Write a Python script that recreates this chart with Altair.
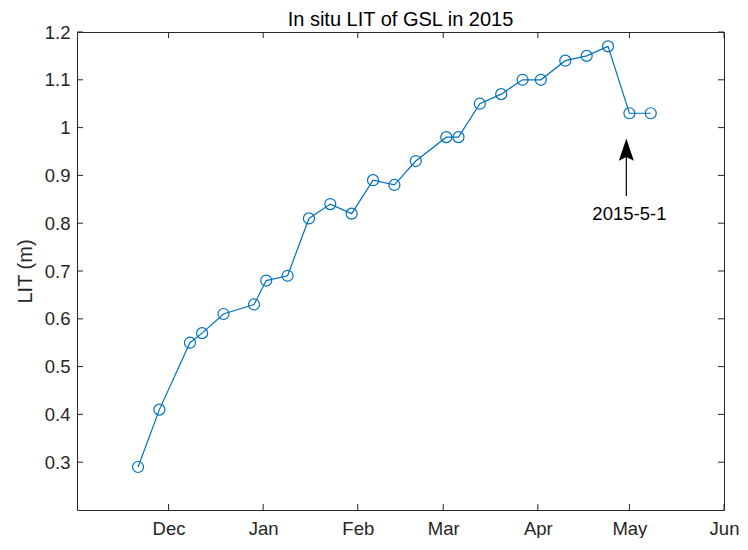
import altair as alt
import pandas as pd

# ---- data ----
dates = ["2014-11-21", "2014-11-28", "2014-12-08", "2014-12-12", "2014-12-19",
         "2014-12-29", "2015-01-02", "2015-01-09", "2015-01-16", "2015-01-23",
         "2015-01-30", "2015-02-06", "2015-02-13", "2015-02-20", "2015-03-02",
         "2015-03-06", "2015-03-13", "2015-03-20", "2015-03-27", "2015-04-02",
         "2015-04-10", "2015-04-17", "2015-04-24", "2015-05-01", "2015-05-08"]
lit = [0.29, 0.41, 0.55, 0.57, 0.61, 0.63, 0.68, 0.69, 0.81, 0.84,
       0.82, 0.89, 0.88, 0.93, 0.98, 0.98, 1.05, 1.07, 1.10, 1.10,
       1.14, 1.15, 1.17, 1.03, 1.03]

x_tick_dates = ["2014-12-01", "2015-01-01", "2015-02-01", "2015-03-01",
                "2015-04-01", "2015-05-01", "2015-06-01"]
y_tick_values = [0.3, 0.4, 0.5, 0.6, 0.7, 0.8, 0.9, 1.0, 1.1, 1.2]
x_domain = ["2014-11-01", "2015-06-01"]
y_domain = [0.2, 1.2]

annot_text = "2015-5-1"
annot_text_date = "2015-05-01"
annot_text_y = 0.82
arrow_date = "2015-04-30"
arrow_y_tail = 0.857
arrow_y_head = 0.945
arrow_head_y = 0.954

title_text = "In situ LIT of GSL in 2015"
y_title = "LIT (m)"

# ---- helpers ----
def local(d):
    return d + "T00:00:00"

def dt(d):
    y, m, dd = (int(v) for v in d.split("-"))
    return alt.DateTime(year=y, month=m, date=dd)

W, H = 647, 478
BLUE = "#0072BD"
AX = "#262626"
FONT = "Liberation Sans"

xscale = alt.Scale(domain=[dt(d) for d in x_domain], nice=False)
yscale = alt.Scale(domain=y_domain, nice=False, zero=False)

df = pd.DataFrame({"date": [local(d) for d in dates], "lit": lit})
xt = pd.DataFrame({"date": [local(d) for d in x_tick_dates]})
yt = pd.DataFrame({"lit": y_tick_values})
arrow_df = pd.DataFrame({"date": [local(arrow_date)], "lit": [arrow_y_tail],
                         "lit2": [arrow_y_head], "head": [arrow_head_y]})
text_df = pd.DataFrame({"date": [local(annot_text_date)], "lit": [annot_text_y],
                        "label": [annot_text]})

x_axis = alt.Axis(values=[dt(d) for d in x_tick_dates], format="%b",
                  title=None, labelFlush=False, labelPadding=9,
                  labelBaseline="top", labelAlign="center", labelOverlap=False,
                  grid=False, ticks=False, domain=False,
                  labelFont=FONT, labelFontSize=18.5, labelColor=AX)
y_axis = alt.Axis(values=y_tick_values, format="~g", title=y_title,
                  labelPadding=7, titleX=-46, titleY=H / 2,
                  titleAngle=270, titleAlign="center",
                  titleBaseline="alphabetic", titleFontSize=20,
                  titleFont=FONT, titleColor=AX, titleFontWeight="normal",
                  labelOverlap=False, grid=False, ticks=False, domain=False,
                  labelFont=FONT, labelFontSize=18.5, labelColor=AX)

X = alt.X("date:T", scale=xscale, axis=x_axis)
Y = alt.Y("lit:Q", scale=yscale, axis=y_axis)

line = alt.Chart(df).mark_line(color=BLUE, strokeWidth=1.2).encode(x=X, y=Y)
pts = alt.Chart(df).mark_point(shape="circle", size=121, filled=False,
                               color=BLUE, strokeWidth=1.2,
                               opacity=1).encode(x=X, y=Y)

tick_len = 6
xb = alt.Chart(xt).mark_rule(color=AX, strokeWidth=1).encode(
    x=X, y=alt.value(H), y2=alt.value(H - tick_len))
xtop = alt.Chart(xt).mark_rule(color=AX, strokeWidth=1).encode(
    x=X, y=alt.value(0), y2=alt.value(tick_len))
yl = alt.Chart(yt).mark_rule(color=AX, strokeWidth=1).encode(
    y=Y, x=alt.value(0), x2=alt.value(tick_len))
yr = alt.Chart(yt).mark_rule(color=AX, strokeWidth=1).encode(
    y=Y, x=alt.value(W), x2=alt.value(W - tick_len))

shaft = alt.Chart(arrow_df).mark_rule(color="black", strokeWidth=1.2).encode(
    x=X, y=Y, y2="lit2:Q")
head = alt.Chart(arrow_df).mark_point(
    shape="M0,-1L0.67,1L0,0.67L-0.67,1Z", size=502, filled=True,
    color="black", opacity=1, strokeWidth=0).encode(
    x=X, y=alt.Y("head:Q", scale=yscale, axis=y_axis))
label = alt.Chart(text_df).mark_text(font=FONT, fontSize=18.5, color="#000000",
                                     align="center", baseline="middle").encode(
    x=X, y=Y, text="label:N")

chart = alt.layer(line, pts, xb, xtop, yl, yr, shaft, head, label).properties(
    width=W, height=H,
    title=alt.TitleParams(title_text, font=FONT, fontSize=20,
                          fontWeight="normal", color="#000000",
                          anchor="middle", offset=4, dy=11),
    autosize=alt.AutoSizeParams(type="none"),
    padding={"left": 69, "top": 24, "right": 16, "bottom": 28},
    background="white",
).configure_view(
    stroke=AX, strokeWidth=1
).configure_axis(
    domain=False, ticks=False, grid=False,
    labelFont=FONT, labelFontSize=18.5, labelColor=AX,
)

chart.save("out.html", embed_options={"renderer": "svg", "actions": False})
